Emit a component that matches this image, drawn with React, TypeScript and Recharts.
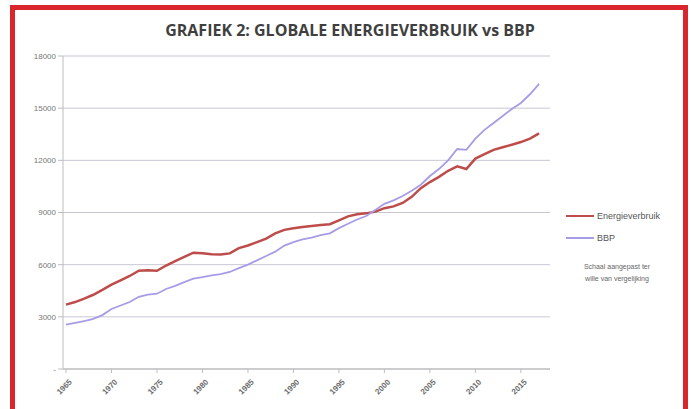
import React from 'react';
import { LineChart, Line, XAxis, YAxis, CartesianGrid } from 'recharts';

const years = [
  1965, 1966, 1967, 1968, 1969, 1970, 1971, 1972, 1973, 1974,
  1975, 1976, 1977, 1978, 1979, 1980, 1981, 1982, 1983, 1984,
  1985, 1986, 1987, 1988, 1989, 1990, 1991, 1992, 1993, 1994,
  1995, 1996, 1997, 1998, 1999, 2000, 2001, 2002, 2003, 2004,
  2005, 2006, 2007, 2008, 2009, 2010, 2011, 2012, 2013, 2014,
  2015, 2016, 2017,
];

const energieverbruik = [
  3700, 3850, 4050, 4270, 4550, 4850, 5100, 5350, 5650, 5680,
  5650, 5950, 6200, 6450, 6690, 6650, 6600, 6580, 6650, 6950,
  7100, 7300, 7500, 7800, 8000, 8100, 8170, 8220, 8280, 8330,
  8550, 8780, 8900, 8950, 9050, 9250, 9350, 9550, 9900, 10400,
  10750, 11050, 11400, 11650, 11500, 12100, 12350, 12600, 12750, 12900,
  13050, 13250, 13550,
];

const bbp = [
  2550, 2650, 2760, 2880, 3100, 3450, 3650, 3850, 4150, 4280,
  4330, 4600, 4780, 5000, 5200, 5280, 5380, 5450, 5580, 5800,
  6000, 6250, 6500, 6750, 7100, 7300, 7450, 7550, 7700, 7800,
  8100, 8350, 8600, 8800, 9150, 9500, 9700, 9950, 10250, 10600,
  11100, 11500, 12000, 12650, 12600, 13250, 13750, 14150, 14550, 14950,
  15300, 15800, 16400,
];

const yearTicks = [1965, 1970, 1975, 1980, 1985, 1990, 1995, 2000, 2005, 2010, 2015];
const valueTicks = [0, 3000, 6000, 9000, 12000, 15000, 18000];

const series = [
  { key: 'energie', name: 'Energieverbruik', color: '#bd4c4a', width: 2.5 },
  { key: 'bbp', name: 'BBP', color: '#a79ce6', width: 1.8 },
];

const data = years.map((year, i) => ({
  year,
  energie: energieverbruik[i],
  bbp: bbp[i],
}));

const YearTick = (props: any) => {
  const { x, y, payload } = props;
  return (
    <text
      transform={`translate(${x + 5},${y + 6}) rotate(-45)`}
      textAnchor="end"
      dominantBaseline="middle"
      fontSize={8}
      fontWeight="bold"
      fill="#6b6b6b"
      fontFamily="Liberation Sans, Arial, sans-serif"
    >
      {payload.value}
    </text>
  );
};

// legend drawn beside the plot, outside recharts so it doesn't eat plot width
const LegendBox = () => (
  <div style={{ position: 'absolute', left: 566, top: 205, width: 125, fontFamily: 'Liberation Sans, Arial, sans-serif', color: '#555' }}>
    {series.map((s) => (
      <div key={s.key} style={{ display: 'flex', alignItems: 'center', height: 22 }}>
        <div style={{ width: 28, height: s.width, background: s.color, marginRight: 3 }} />
        <span style={{ fontSize: 9 }}>{s.name}</span>
      </div>
    ))}
    <div style={{ fontSize: 7, textAlign: 'center', width: 110, marginTop: 12, marginLeft: -4, lineHeight: '12px', color: '#666' }}>
      Schaal aangepast ter
      <br />
      wille van vergelijking
    </div>
  </div>
);

export default function App() {
  return (
    <div style={{ position: 'absolute', left: 0, top: 0, width: 691, height: 409, background: '#fff', overflow: 'hidden' }}>
      <div
        style={{
          position: 'absolute',
          left: 10,
          top: 5,
          width: 668,
          height: 420,
          borderTop: '5px solid #d9252b',
          borderLeft: '5px solid #d9252b',
          borderRight: '5px solid #d9252b',
        }}
      />
      <div
        style={{
          position: 'absolute',
          left: 0,
          top: 19,
          width: 700,
          textAlign: 'center',
          fontFamily: 'Open Sans, sans-serif',
          fontWeight: 'bold',
          fontSize: 16,
          color: '#3f3f3f',
        }}
      >
        GRAFIEK 2: GLOBALE ENERGIEVERBRUIK vs BBP
      </div>
      <div style={{ position: 'absolute', left: 0, top: 0 }}>
        <LineChart width={691} height={409} data={data} margin={{ top: 56, right: 141, left: 13, bottom: 0 }}>
          <CartesianGrid vertical={false} stroke="#c9c6d4" strokeWidth={1} />
          <XAxis
            dataKey="year"
            type="number"
            domain={[1964.67, 2018.2]}
            ticks={yearTicks}
            tick={<YearTick />}
            tickLine={{ stroke: '#bdbdbd' }}
            axisLine={{ stroke: '#b5b5b5' }}
            tickSize={4}
            height={40}
            interval={0}
          />
          <YAxis
            domain={[0, 18000]}
            ticks={valueTicks}
            interval={0}
            width={50}
            tickSize={5}
            tickLine={{ stroke: '#bdbdbd' }}
            axisLine={{ stroke: '#bdbdbd' }}
            tickFormatter={(v: number) => (v === 0 ? '-' : String(v))}
            tick={{ fontSize: 8, fill: '#777', fontFamily: 'Liberation Sans, Arial, sans-serif' }}
          />
          {series.map((s) => (
            <Line
              key={s.key}
              type="linear"
              dataKey={s.key}
              name={s.name}
              stroke={s.color}
              strokeWidth={s.width}
              dot={false}
              isAnimationActive={false}
            />
          ))}
        </LineChart>
      </div>
      <LegendBox />
    </div>
  );
}
